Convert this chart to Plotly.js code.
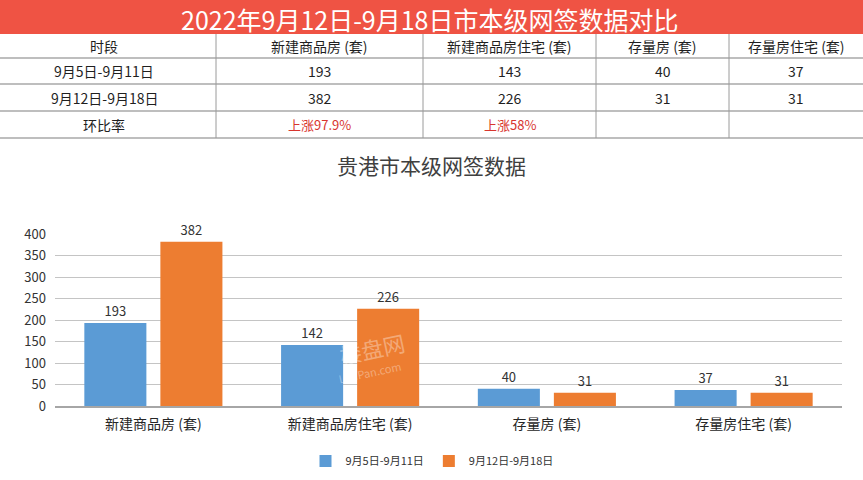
<!DOCTYPE html>
<html>
<head>
<meta charset="utf-8">
<script src="https://cdn.plot.ly/plotly-3.0.1.min.js"></script>
<style>
  html, body { margin: 0; padding: 0; background: #ffffff; }
  #chart { width: 863px; height: 480px; }
</style>
</head>
<body>
<div id="chart"></div>
<script>
// ---- Data ----
const pageTitle = '2022年9月12日-9月18日市本级网签数据对比';
const chartTitle = '贵港市本级网签数据';
const categories = ['新建商品房 (套)', '新建商品房住宅 (套)', '存量房 (套)', '存量房住宅 (套)'];
const seriesNames = ['9月5日-9月11日', '9月12日-9月18日'];
const week1Values = [193, 142, 40, 37];
const week2Values = [382, 226, 31, 31];

const tableHeader = ['时段', '新建商品房 (套)', '新建商品房住宅 (套)', '存量房 (套)', '存量房住宅 (套)'];
const tableRow1 = ['9月5日-9月11日', '193', '143', '40', '37'];
const tableRow2 = ['9月12日-9月18日', '382', '226', '31', '31'];
const tableRow3 = ['环比率', '上涨97.9%', '上涨58%', '', ''];

// ---- Layout helpers (pixel -> paper) ----
const W = 863, H = 480;
const M = { l: 55, r: 21, t: 234, b: 74, autoexpand: false };
const PW = W - M.l - M.r, PH = H - M.t - M.b;
const px = x => (x - M.l) / PW;
const py = y => (H - M.b - y) / PH;

const FONT = '"Noto Sans CJK SC", "Noto Sans", sans-serif';
const colBounds = [0, 216, 423, 596, 729, 863];
const rowLines = [58, 84, 111, 138];
const rowCenters = [46, 71, 97.5, 124.5];

const shapes = [];
const annotations = [];

// Red title bar
shapes.push({ type: 'rect', xref: 'paper', yref: 'paper', layer: 'below',
  x0: px(0), x1: px(W), y0: py(0), y1: py(34),
  fillcolor: '#EF5344', line: { width: 0 } });
annotations.push({ xref: 'paper', yref: 'paper', x: px(429), y: py(18.5),
  xanchor: 'center', yanchor: 'middle', showarrow: false, text: pageTitle, borderpad: 0,
  font: { family: FONT, size: 25, color: '#ffffff' } });

// Table lines
rowLines.forEach(y => shapes.push({ type: 'line', xref: 'paper', yref: 'paper',
  x0: px(0), x1: px(W), y0: py(y), y1: py(y), line: { color: '#A8A8A8', width: 1.5 } }));
colBounds.slice(1, -1).forEach(x => shapes.push({ type: 'line', xref: 'paper', yref: 'paper',
  x0: px(x), x1: px(x), y0: py(34), y1: py(138), line: { color: '#9A9A9A', width: 1 } }));

// Table text
const rows = [tableHeader, tableRow1, tableRow2, tableRow3];
rows.forEach((row, ri) => {
  row.forEach((txt, ci) => {
    if (!txt) return;
    const cx = (colBounds[ci] + colBounds[ci + 1]) / 2 - (ci === 0 ? 4 : 0);
    const isRed = ri === 3 && ci > 0;
    annotations.push({ xref: 'paper', yref: 'paper', x: px(cx), y: py(rowCenters[ri]),
      xanchor: 'center', yanchor: 'middle', showarrow: false, text: txt,
      font: { family: FONT, size: isRed ? 13 : 14, color: isRed ? '#D8352E' : '#1F1F1F' } });
  });
});

// Chart title
annotations.push({ xref: 'paper', yref: 'paper', x: px(431), y: py(165),
  xanchor: 'center', yanchor: 'middle', showarrow: false, text: chartTitle,
  font: { family: FONT, size: 21, color: '#404040' } });

// Faint watermark
annotations.push({ xref: 'paper', yref: 'paper', x: px(372), y: py(348),
  xanchor: 'center', yanchor: 'middle', showarrow: false, text: '楼盘网', textangle: -12,
  font: { family: FONT, size: 22, color: 'rgba(255,255,255,0.35)' } });
annotations.push({ xref: 'paper', yref: 'paper', x: px(370), y: py(372),
  xanchor: 'center', yanchor: 'middle', showarrow: false, text: 'LouPan.com', textangle: -12,
  font: { family: FONT, size: 11, color: 'rgba(255,255,255,0.35)' } });

const traces = [
  { type: 'bar', name: seriesNames[0], x: categories, y: week1Values,
    marker: { color: '#5B9BD5' }, text: week1Values.map(String), textposition: 'outside',
    cliponaxis: false, textfont: { family: FONT, size: 13, color: '#333333' }, hoverinfo: 'none' },
  { type: 'bar', name: seriesNames[1], x: categories, y: week2Values,
    marker: { color: '#ED7D31' }, text: week2Values.map(String), textposition: 'outside',
    cliponaxis: false, textfont: { family: FONT, size: 13, color: '#333333' }, hoverinfo: 'none' }
];

const layout = {
  width: W, height: H,
  margin: M,
  paper_bgcolor: '#ffffff', plot_bgcolor: '#ffffff',
  barmode: 'group', bargap: 0.227, bargroupgap: 0.184,
  font: { family: FONT, color: '#333333' },
  xaxis: { type: 'category', showgrid: false, zeroline: false, showline: true,
    linecolor: '#A6A6A6', linewidth: 1.5, ticks: '', ticklabelstandoff: 5,
    tickfont: { family: FONT, size: 14, color: '#262626' }, fixedrange: true },
  yaxis: { range: [0, 400], dtick: 50, tick0: 0, showgrid: true, gridcolor: '#C4C4C4', gridwidth: 1,
    zeroline: false, showline: false, ticks: '', ticklabelstandoff: 8,
    tickfont: { family: FONT, size: 13, color: '#333333' }, fixedrange: true },
  showlegend: true,
  legend: { orientation: 'h', x: px(432), xanchor: 'center', y: py(461), yanchor: 'middle',
    font: { family: FONT, size: 11, color: '#333333' }, itemwidth: 30, traceorder: 'normal' },
  shapes: shapes,
  annotations: annotations
};

Plotly.newPlot('chart', traces, layout, { displayModeBar: false, staticPlot: true });
</script>
</body>
</html>
